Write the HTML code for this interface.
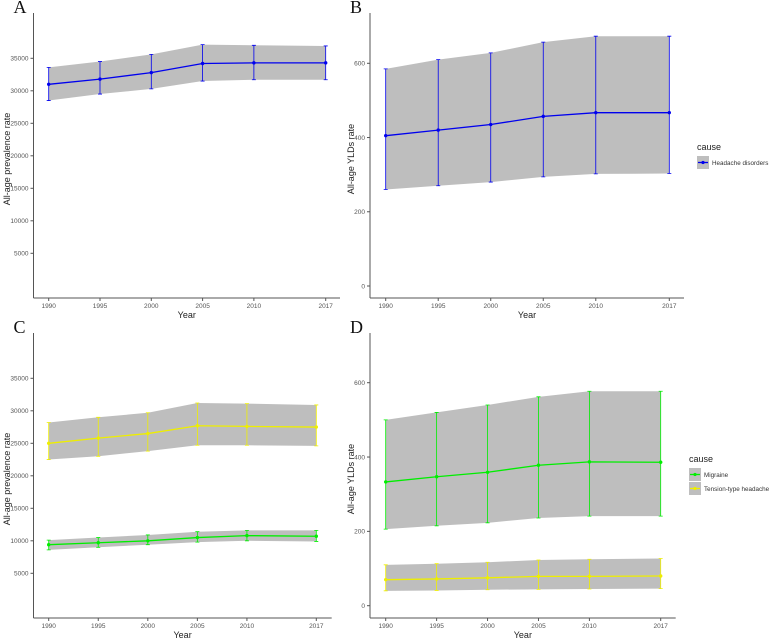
<!DOCTYPE html>
<html><head><meta charset="utf-8"><style>
body{margin:0;background:#fff;}
svg{display:block;font-family:"Liberation Sans",sans-serif;}
.tick{font-size:6.5px;fill:#555;}
.ttl{font-size:9px;fill:#222;}
.leg{font-size:6.3px;fill:#333;}
.pl{font-family:"Liberation Serif",serif;font-size:18px;fill:#111;}
</style></head><body>
<svg id="c" width="778" height="642"></svg>
<script>
const years=[1990,1995,2000,2005,2010,2017];
const prevTicks=[5000,10000,15000,20000,25000,30000,35000];
const yldTicks=[0,200,400,600];
const aMean=[31000,31800,32800,34200,34300,34300];
const aUp=[33600,34500,35600,37100,37000,36900];
const aLo=[28500,29500,30300,31500,31700,31700];
const bMean=[405,420,435,457,467,467];
const bUp=[585,610,628,657,673,673];
const bLo=[260,270,280,294,302,303];
const cTensMean=[25000,25800,26500,27700,27600,27500];
const cTensUp=[28200,29000,29700,31200,31100,30900];
const cTensLo=[22500,23000,23800,24700,24700,24600];
const cMigMean=[9400,9700,10000,10500,10800,10700];
const cMigUp=[10100,10500,10900,11400,11600,11600];
const cMigLo=[8600,9000,9400,9800,10000,9900];
const dMigMean=[333,347,359,378,387,386];
const dMigUp=[500,520,540,562,577,577];
const dMigLo=[206,215,223,236,241,241];
const dTensMean=[70,72,75,79,79,80];
const dTensUp=[110,113,117,123,125,127];
const dTensLo=[40,41,43,44,45,46];

const NS="http://www.w3.org/2000/svg";
const svg=document.getElementById('c');
function el(t,a,p){const e=document.createElementNS(NS,t);for(const k in a)e.setAttribute(k,a[k]);(p||svg).appendChild(e);return e;}

function panel(o){
  const g=el('g',{});
  
  
  const X=y=>o.x0+(y-1990)*(o.x1-o.x0)/27;
  const Y=v=>o.yA-(v-o.vA)*(o.yA-o.yB)/(o.vB-o.vA);
  const pl=el('text',{x:o.ax-20,y:o.top+13,class:'pl'},g);pl.textContent=o.label;
  
  const ya=el('line',{x1:o.ax,y1:o.top+13,x2:o.ax,y2:o.bottom,stroke:'#555','stroke-width':1},g);
  
  const xa=el('line',{x1:o.ax,y1:o.bottom,x2:o.axr,y2:o.bottom,stroke:'#555','stroke-width':1},g);
  
  o.ticks.forEach(t=>{
    el('line',{x1:o.ax-3,x2:o.ax,y1:Y(t),y2:Y(t),stroke:'#555'},g);
    const tx=el('text',{x:o.ax-5,y:Y(t)+2.3,'text-anchor':'end',class:'tick'},g);tx.textContent=t;
    
  });
  years.forEach(yr=>{
    el('line',{x1:X(yr),x2:X(yr),y1:o.bottom,y2:o.bottom+3,stroke:'#555'},g);
    const tx=el('text',{x:X(yr),y:o.bottom+10,'text-anchor':'middle',class:'tick'},g);tx.textContent=yr;
    
  });
  const xt=el('text',{x:(o.ax+o.axr)/2,y:o.bottom+20,'text-anchor':'middle',class:'ttl'},g);xt.textContent='Year';
  
  const cy=(o.top+o.bottom)/2+10;
  const yt=el('text',{x:0,y:0,'text-anchor':'middle',class:'ttl',transform:`translate(${o.ytx},${cy}) rotate(-90)`},g);yt.textContent=o.ytitle;
  
  o.series.forEach(s=>{
    let d='';years.forEach((yr,i)=>d+=(i?'L':'M')+X(yr)+','+Y(s.up[i]));
    for(let i=years.length-1;i>=0;i--)d+='L'+X(years[i])+','+Y(s.lo[i]);
    const r=el('path',{d:d+'Z',fill:'#bebebe'},g);
    
  });
  o.series.forEach(s=>{
    years.forEach((yr,i)=>{
      const e=el('path',{d:`M${X(yr)-2},${Y(s.up[i])}h4M${X(yr)},${Y(s.up[i])}V${Y(s.lo[i])}M${X(yr)-2},${Y(s.lo[i])}h4`,stroke:s.col,'stroke-width':0.8,fill:'none'},g);
      
    });
    const ln=el('polyline',{points:years.map((yr,i)=>X(yr)+','+Y(s.mean[i])).join(' '),stroke:s.col,'stroke-width':1.3,fill:'none'},g);
    
    years.forEach((yr,i)=>{
      const c=el('circle',{cx:X(yr),cy:Y(s.mean[i]),r:1.7,fill:s.col},g);
      
    });
  });
  if(o.legend){
    const lg=el('g',{},g);
    
    const lt=el('text',{x:o.legend.x,y:o.legend.y,class:'ttl'},lg);lt.textContent='cause';
    o.series.slice().sort((a,b)=>a.lorder-b.lorder).forEach((s,i)=>{
      const yy=o.legend.y+6+i*14;
      el('rect',{x:o.legend.x,y:yy,width:12,height:13,fill:'#bebebe'},lg);
      el('line',{x1:o.legend.x+1,x2:o.legend.x+11,y1:yy+6.5,y2:yy+6.5,stroke:s.col,'stroke-width':1.3},lg);
      el('circle',{cx:o.legend.x+6,cy:yy+6.5,r:1.6,fill:s.col},lg);
      const t=el('text',{x:o.legend.x+15,y:yy+9,class:'leg'},lg);t.textContent=s.lname;
      
    });
  }
}
panel({label:'A',top:0,bottom:298,ax:33.5,axr:340,ytx:10,x0:48.7,x1:325.7,vA:5000,yA:253.3,vB:35000,yB:58.3,ticks:prevTicks,ytitle:'All-age prevalence rate',
  series:[{name:'headache',col:'#0000ee',mean:aMean,up:aUp,lo:aLo}]});
panel({label:'B',top:0,bottom:298,ax:370,axr:684,ytx:354,x0:385.7,x1:669.3,vA:0,yA:286,vB:600,yB:63.3,ticks:yldTicks,ytitle:'All-age YLDs rate',
  series:[{name:'headache',col:'#0000ee',mean:bMean,up:bUp,lo:bLo,lname:'Headache disorders',lorder:0}],legend:{x:697,y:150}});
panel({label:'C',top:320,bottom:618,ax:33.5,axr:331.7,ytx:10,x0:48.7,x1:316.3,vA:5000,yA:573.3,vB:35000,yB:378.3,ticks:prevTicks,ytitle:'All-age prevalence rate',
  series:[{name:'tension',col:'#eeee00',mean:cTensMean,up:cTensUp,lo:cTensLo},{name:'migraine',col:'#00ee00',mean:cMigMean,up:cMigUp,lo:cMigLo}]});
panel({label:'D',top:320,bottom:618,ax:370,axr:675.7,ytx:354,x0:385.7,x1:660.7,vA:0,yA:605.7,vB:600,yB:382.7,ticks:yldTicks,ytitle:'All-age YLDs rate',
  series:[{name:'migraine',col:'#00ee00',mean:dMigMean,up:dMigUp,lo:dMigLo,lname:'Migraine',lorder:0},{name:'tension',col:'#eeee00',mean:dTensMean,up:dTensUp,lo:dTensLo,lname:'Tension-type headache',lorder:1}],legend:{x:689,y:462}});
</script>
</body></html>
